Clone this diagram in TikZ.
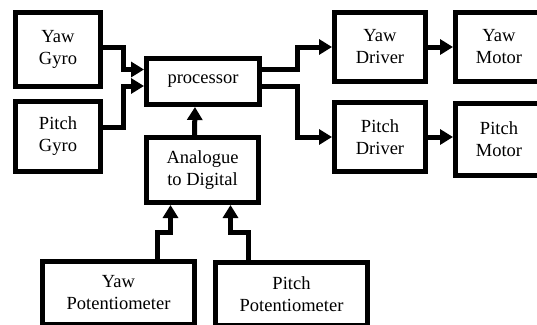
\documentclass[tikz,border=0pt]{standalone}
\usepackage{fontspec}
\setmainfont{Liberation Serif}
\usetikzlibrary{arrows.meta}
\begin{document}
\begin{tikzpicture}[x=1pt,y=-1pt,
  blk/.style={draw,line width=5pt,align=center,inner sep=0pt,
    font=\fontsize{18.5}{22}\selectfont},
  conn/.style={line width=5pt,-{Triangle[length=13pt,width=15pt]}}]
\clip (0,0) rectangle (537,324);
\useasboundingbox (0,0) rectangle (537,324);
\node[blk,minimum width=85pt,minimum height=74pt] (yg) at (58,49.5) {Yaw\\Gyro};
\node[blk,minimum width=85pt,minimum height=70pt] (pg) at (58,136.5) {Pitch\\Gyro};
\node[blk,minimum width=113pt,minimum height=46pt] (proc) at (203,81.5) {processor};
\node[blk,minimum width=112pt,minimum height=65pt] (adc) at (202.5,170) {Analogue\\to Digital};
\node[blk,minimum width=91pt,minimum height=69pt] (yd) at (380,47) {Yaw\\Driver};
\node[blk,minimum width=91pt,minimum height=69pt] (pd) at (380,137) {Pitch\\Driver};
\node[blk,minimum width=87pt,minimum height=69pt] (ym) at (499,47) {Yaw\\Motor};
\node[blk,minimum width=87pt,minimum height=72pt] (pm) at (499,139.5) {Pitch\\Motor};
\node[blk,minimum width=152pt,minimum height=63pt] (yp) at (118.5,293) {Yaw\\Potentiometer};
\node[blk,minimum width=152pt,minimum height=63pt] (pp) at (291.5,294) {Pitch\\Potentiometer};
% gyros to processor
\draw[conn] ([yshift=2.5pt]yg.east) -| (123,69.5) -- ([yshift=12pt]proc.west);
\draw[conn] ([yshift=9.5pt]pg.east) -| (123,86) -- ([yshift=-4.5pt]proc.west);
% adc to processor
\draw[conn] ([xshift=-8pt]adc.north) -- ([xshift=-8pt]proc.south);
% processor to drivers
\draw[conn] ([yshift=12pt]proc.east) -| (297,47) -- (yd.west);
\draw[conn] ([yshift=-4.5pt]proc.east) -| (297,137) -- (pd.west);
% drivers to motors
\draw[conn] (yd.east) -- (yd.east -| ym.west);
\draw[conn] (pd.east) -- (pd.east -| pm.west);
% potentiometers to adc
\draw[conn] ([xshift=38.5pt]yp.north) |- (170.5,232) -- ([xshift=-32pt]adc.south);
\draw[conn] ([xshift=-43.5pt]pp.north) |- (230.5,232) -- ([xshift=28pt]adc.south);
\end{tikzpicture}
\end{document}
